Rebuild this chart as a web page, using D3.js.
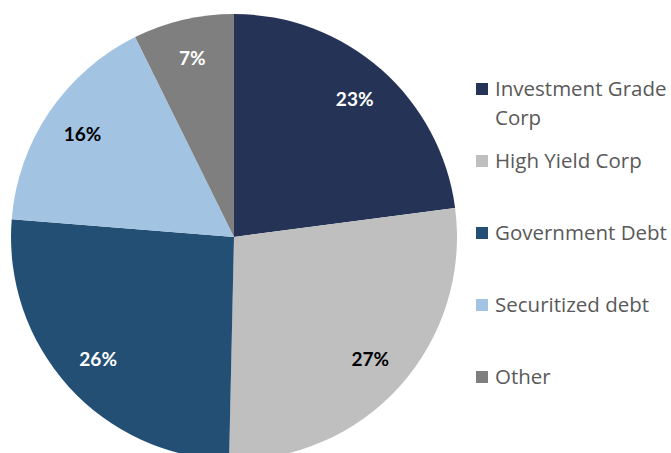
<!DOCTYPE html>
<html>
<head>
<meta charset="utf-8">
<script src="https://cdn.jsdelivr.net/npm/d3@7"></script>
<style>
    body { margin: 0; background: #fff; }
    svg { display: block; }
</style>
</head>
<body>
<div id="chart"></div>
<script>
// chart data (shares, labels show them rounded)
const categories = ['Investment Grade Corp', 'High Yield Corp', 'Government Debt', 'Securitized debt', 'Other'];
const shares = [22.9, 27.4, 25.9, 16.4, 7.3];
const sliceColors = ['#253356', '#bfbfbf', '#234f75', '#a2c4e2', '#7f7f7f'];
const labelColors = ['#ffffff', '#000000', '#ffffff', '#000000', '#ffffff'];
// legend text, wrapped the way the original shows it
const legendLines = [['Investment Grade', 'Corp'], ['High Yield Corp'], ['Government Debt'], ['Securitized debt'], ['Other']];

const width = 671;
const height = 453;

const svg = d3.select('#chart')
    .append('svg')
    .attr('width', width)
    .attr('height', height);

const data = categories.map((c, i) => ({ group: c, value: shares[i], idx: i }));

// Pie layout, keeps data order, starts at 12 o'clock
const pie = d3.pie()
    .sort(null)
    .value(d => d.value);

const radius = 223;
const arc = d3.arc()
    .innerRadius(0)
    .outerRadius(radius);

const labelArc = d3.arc()
    .innerRadius(183)
    .outerRadius(183);

const pieG = svg.append('g')
    .attr('transform', `translate(234, 237)`);

pieG.selectAll('.slice')
    .data(pie(data))
    .enter()
    .append('path')
    .attr('class', 'slice')
    .attr('d', arc)
    .attr('fill', d => sliceColors[d.data.idx]);

pieG.selectAll('.pct')
    .data(pie(data))
    .enter()
    .append('text')
    .attr('class', 'pct')
    .attr('transform', d => `translate(${labelArc.centroid(d)})`)
    .attr('text-anchor', 'middle')
    .attr('dy', '0.35em')
    .style('font-family', 'Lato, "Open Sans", sans-serif')
    .style('font-weight', 'bold')
    .style('font-size', '19px')
    .attr('fill', d => labelColors[d.data.idx])
    .text(d => d3.format('.0f')(d.data.value) + '%');

// Legend
const legendY = d3.scaleLinear()
    .domain([0, categories.length - 1])
    .range([89, 377]);

const legend = svg.append('g')
    .selectAll('.legend-item')
    .data(data)
    .enter()
    .append('g')
    .attr('class', 'legend-item')
    .attr('transform', d => `translate(476, ${legendY(d.idx)})`);

legend.append('rect')
    .attr('x', 0)
    .attr('y', -6)
    .attr('width', 12)
    .attr('height', 12)
    .attr('fill', d => sliceColors[d.idx]);

legend.append('text')
    .attr('x', 19)
    .attr('y', 0)
    .style('font-family', '"Open Sans", Lato, sans-serif')
    .style('font-size', '20.5px')
    .attr('fill', '#595959')
    .selectAll('tspan')
    .data(d => legendLines[d.idx])
    .enter()
    .append('tspan')
    .attr('x', 19)
    .attr('dy', (d, i) => i === 0 ? '0.35em' : '1.4em')
    .text(d => d);
</script>
</body>
</html>
